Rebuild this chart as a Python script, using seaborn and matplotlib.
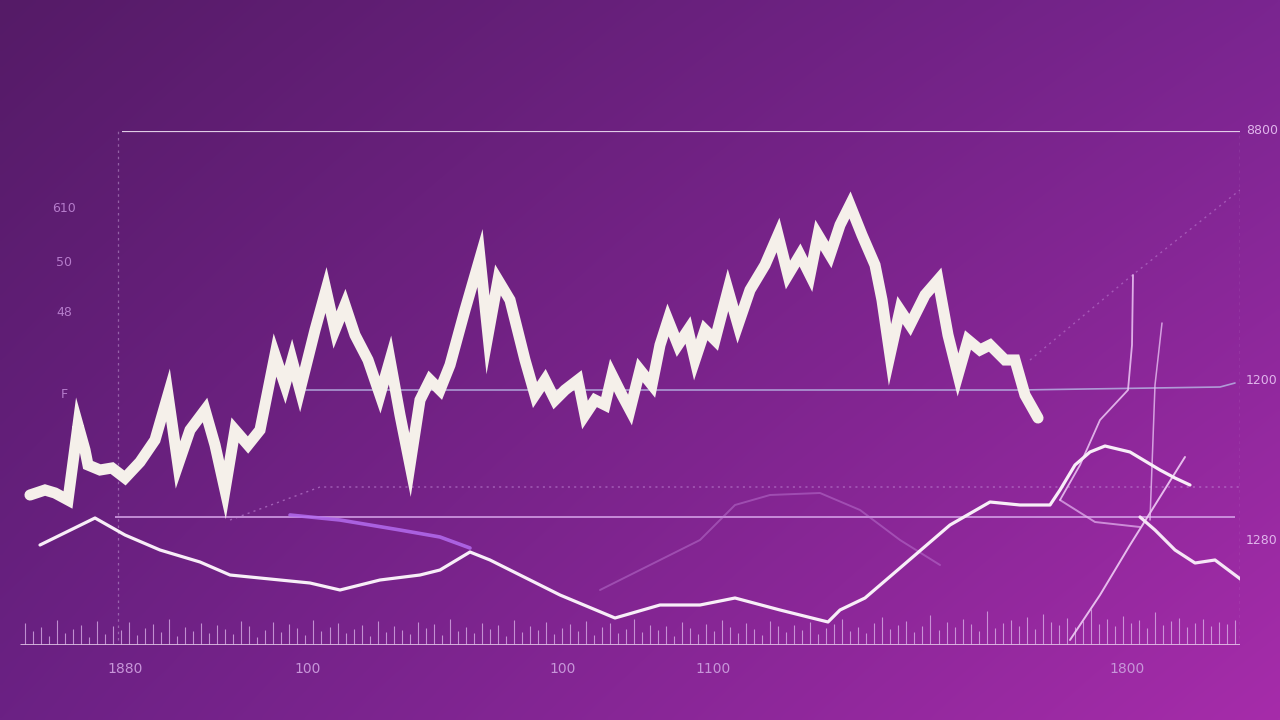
import numpy as np
import pandas as pd
import matplotlib
matplotlib.use("Agg")
import matplotlib.pyplot as plt
import seaborn as sns
from matplotlib.colors import to_rgb

# ---------------- data ----------------
bg_corners = ["#551b67", "#7a2590", "#6b2184", "#a62caa"]  # TL, TR, BL, BR

price_t = [10, 25, 35, 48, 52, 58, 65, 68, 80, 92, 105, 120, 135, 148, 158, 170, 185, 195,
           205, 215, 228, 240, 255, 265, 272, 280, 295, 306, 315, 325, 335, 348, 360, 370,
           380, 390, 400, 410, 420, 430, 445, 460, 468, 478, 490, 505, 515, 525, 535, 545,
           558, 565, 575, 585, 592, 602, 610, 620, 632, 640, 648, 658, 668, 675, 685, 695,
           708, 718, 730, 745, 758, 768, 780, 790, 798, 810, 820, 830, 842, 855, 862, 870,
           880, 890, 905, 918, 928, 938, 948, 960, 970, 985, 995, 1005, 1018]
price_v = [150, 155, 152, 145, 175, 220, 195, 180, 175, 177, 167, 183, 205, 250, 180, 215,
           235, 200, 155, 215, 200, 215, 290, 260, 285, 255, 315, 355, 315, 340, 310, 285,
           250, 285, 230, 180, 245, 265, 255, 280, 335, 387, 310, 365, 345, 285, 250, 265,
           245, 255, 265, 230, 245, 240, 270, 250, 235, 275, 260, 300, 325, 300, 315, 285,
           315, 305, 355, 320, 355, 380, 410, 370, 390, 370, 410, 390, 420, 440, 410, 380,
           345, 290, 335, 320, 350, 365, 310, 270, 305, 295, 300, 285, 285, 250, 227]

trend_t = [20, 75, 105, 140, 180, 210, 260, 290, 320, 360, 400, 420, 450, 470, 500, 540,
           595, 640, 680, 715, 760, 808, 820, 845, 880, 930, 970, 1000, 1030, 1040, 1055,
           1070, 1085, 1110, 1140, 1155, 1170]
trend_v = [100, 127, 110, 95, 83, 70, 65, 62, 55, 65, 70, 75, 93, 85, 70, 50, 27, 40, 40,
           47, 35, 23, 35, 47, 77, 120, 143, 140, 140, 155, 180, 193, 199, 193, 175, 167, 160]

tail_t = [1120, 1135, 1155, 1175, 1195, 1215, 1242]
tail_v = [128, 115, 95, 82, 85, 70, 50]

hump_t = [580, 640, 680, 715, 750, 800, 840, 880, 920]
hump_v = [55, 85, 105, 140, 150, 152, 135, 105, 80]

violet_t = [270, 320, 380, 420, 450]
violet_v = [130, 125, 115, 108, 97]

cross_a_t = [1040, 1060, 1080, 1108, 1112, 1113]
cross_a_v = [145, 180, 225, 255, 300, 370]
cross_b_t = [1050, 1080, 1110, 1135, 1165]
cross_b_v = [5, 50, 100, 140, 188]
cross_c_t = [1130, 1135, 1142]
cross_c_v = [125, 260, 322]
side_t = [1040, 1075, 1120]
side_v = [145, 123, 118]

spikes = [22, 14, 18, 9, 25, 12, 16, 20, 8, 24, 11, 19, 15, 23, 10, 17, 21, 13, 26, 9, 18,
          14, 22, 12, 20, 16, 11, 24, 19, 8, 15, 23, 13, 21, 17, 10, 25, 14, 18, 22, 12, 16,
          20, 9, 24, 13, 19, 15, 11, 23, 17, 21, 10, 26, 14, 18, 12, 22, 16, 20, 9, 25, 13,
          19, 15, 23, 11, 17, 21, 14, 24, 10, 18, 22, 12, 16, 26, 13, 20, 15, 19, 9, 23, 17,
          11, 21, 14, 25, 18, 12, 22, 16, 10, 24, 19, 13, 20, 15, 23, 11, 17, 21, 26, 14, 18,
          12, 22, 28, 16, 20, 24, 13, 19, 30, 15, 23, 18, 26, 21, 14, 34, 17, 22, 25, 19, 28,
          16, 31, 23, 20, 27, 18, 24, 36, 21, 26, 19, 29, 22, 25, 17, 33, 20, 24, 27, 18, 22,
          26, 19, 23, 21, 25]

x_labels = ["1880", "100", "100", "1100", "1800"]
x_label_pos = [105, 288, 543, 693, 1107]
left_labels = ["610", "50", "48", "F"]
left_label_v = [437, 383, 333, 250]
right_labels = ["8800", "1200", "1280"]
right_label_v = [515, 265, 105]

# ---------------- figure ----------------
sns.set_theme(style="white")
plt.rcParams["font.family"] = ["DejaVu Sans"]

fig = plt.figure(figsize=(12.8, 7.2), dpi=100)

# background gradient
bg = fig.add_axes([0, 0, 1, 1], zorder=0)
tl, tr, bl, br = [np.array(to_rgb(c)) for c in bg_corners]
yy, xx = np.mgrid[0:1:180j, 0:1:320j]
img = ((1 - xx)[..., None] * (1 - yy)[..., None] * tl + xx[..., None] * (1 - yy)[..., None] * tr
       + (1 - xx)[..., None] * yy[..., None] * bl + xx[..., None] * yy[..., None] * br)
bg.imshow(img, aspect="auto", extent=[0, 1, 0, 1], origin="upper", interpolation="bilinear")
bg.axis("off")

ax = fig.add_axes([20 / 1280, 75 / 720, 1220 / 1280, 514 / 720], zorder=1)
ax.patch.set_alpha(0)
ax.set_xlim(0, 1220)
ax.set_ylim(0, 514)
for s in ax.spines.values():
    s.set_visible(False)

# frame & reference lines
ax.hlines(514, 102, 1220, color="#efe0f4", lw=1.6, alpha=0.9)
ax.hlines(0, 0, 1220, color="#f0dcf2", lw=1.8)
ax.vlines(98, 5, 514, color="#c9a5d8", lw=0.9, ls=(0, (2, 3)), alpha=0.5)
ax.vlines(1220, 0, 514, color="#d9a8e6", lw=1.0, ls=(0, (2, 3)), alpha=0.5)
ax.plot([280, 1000, 1200, 1215], [255, 255, 258, 262], color="#b9b8e6", lw=1.2, alpha=0.8)
ax.hlines(128, 95, 1215, color="#d9a6ec", lw=1.3, alpha=0.85)
ax.plot([210, 300, 1220], [125, 158, 158], color="#c48ad8", lw=1.0, ls=(0, (1.5, 3)), alpha=0.6)
ax.plot([1010, 1110, 1220], [285, 368, 455], color="#c58ad9", lw=1.0, ls=(0, (1.5, 3)), alpha=0.5)

# volume spikes
spike_t = np.linspace(5, 1215, len(spikes))
ax.vlines(spike_t, 0, spikes, color="#dcb4ea", lw=0.8, alpha=0.75)

# faint series
sns.lineplot(x=hump_t, y=hump_v, ax=ax, color="#c27fd8", lw=1.4, alpha=0.45, sort=False)
sns.lineplot(x=violet_t, y=violet_v, ax=ax, color="#b46cf0", lw=2.6, alpha=0.85, sort=False)
sns.lineplot(x=side_t, y=side_v, ax=ax, color="#e7b8f2", lw=1.4, alpha=0.7, sort=False)
sns.lineplot(x=cross_a_t, y=cross_a_v, ax=ax, color="#eec8f6", lw=1.3, alpha=0.85, sort=False)
sns.lineplot(x=cross_b_t, y=cross_b_v, ax=ax, color="#f0cdf6", lw=1.4, alpha=0.9, sort=False)
sns.lineplot(x=cross_c_t, y=cross_c_v, ax=ax, color="#e7bff2", lw=1.1, alpha=0.8, sort=False)

# main series
sns.lineplot(x=trend_t, y=trend_v, ax=ax, color="#f8eef8", lw=2.3, sort=False)
sns.lineplot(x=tail_t, y=tail_v, ax=ax, color="#f6e6f6", lw=2.3, sort=False)
sns.lineplot(x=price_t, y=price_v, ax=ax, color="#f5f0ea", lw=8, sort=False,
             solid_joinstyle="miter")

# labels
ax.set_xticks(x_label_pos)
ax.set_xticklabels(x_labels, color="#c796d9", fontsize=10)
ax.tick_params(axis="x", length=0, pad=12)
ax.set_yticks([])
ax.set_xlabel("")
ax.set_ylabel("")
for lab, v in zip(left_labels, left_label_v):
    ax.text(44, v, lab, color="#b57ccb", fontsize=9, ha="center", va="center")
for lab, v in zip(right_labels, right_label_v):
    ax.text(1226, v, lab, color="#e0b5ec", fontsize=9, ha="left", va="center", clip_on=False)

fig.savefig("out.png", dpi=100)
